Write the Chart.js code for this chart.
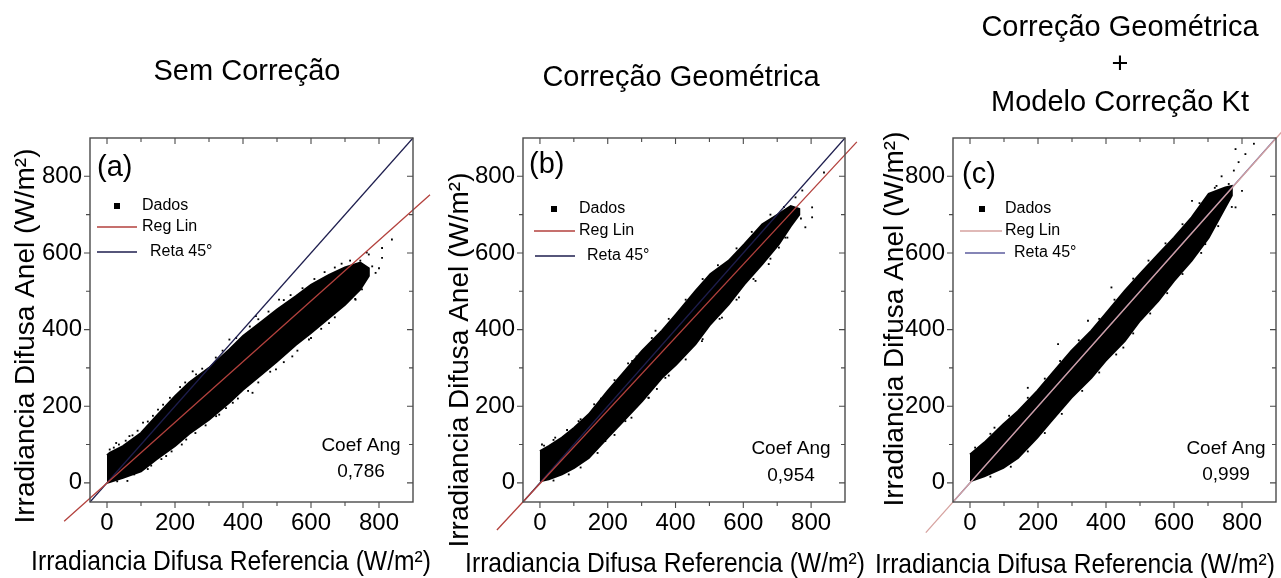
<!DOCTYPE html>
<html>
<head>
<meta charset="utf-8">
<script src="https://cdn.jsdelivr.net/npm/chart.js@4.4.1/dist/chart.umd.min.js"></script>
<style>
  html, body { margin: 0; padding: 0; background: #fff; overflow: hidden; }
  #wrap { position: relative; width: 1281px; height: 578px; }
  canvas { position: absolute; top: 0; }
</style>
</head>
<body>
<div id="wrap">
  <canvas id="chartA" width="440" height="578" style="left:0px"></canvas>
  <canvas id="chartB" width="440" height="578" style="left:427px"></canvas>
  <canvas id="chartC" width="427" height="578" style="left:854px"></canvas>
</div>
<script>
// axes (same for the three panels)
const axisMin = -50;
const axisMax = 900;
const tickValues = [0, 200, 400, 600, 800];
const minorTickValues = [100, 300, 500, 700];
const xAxisTitle = "Irradiancia Difusa Referencia (W/m²)";
const yAxisTitle = "Irradiancia Difusa Anel (W/m²)";
const legendLabels = ["Dados", "Reg Lin", "Reta 45°"];

const panelTitles = [
  ["Sem Correção"],
  ["Correção Geométrica"],
  ["Correção Geométrica", "+", "Modelo Correção Kt"]
];
const panelLabels = ["(a)", "(b)", "(c)"];
const slopeLabels = ["0,786", "0,954", "0,999"];

// 45 degree line
const diagX = [-50, 900];
const diagY = [-50, 900];

// (a) sem correcao: outline of the dense cloud, loose points, regression line
const cloudAX    = [0, 8, 47, 100, 145, 200, 242, 300, 360, 400, 457, 500, 555, 600, 653, 700, 745, 770];
const cloudAHigh = [72, 78, 96, 130, 174, 226, 262, 300, 348, 383, 422, 452, 487, 517, 543, 562, 575, 560];
const cloudALow  = [0, 2, 13, 30, 61, 96, 128, 165, 210, 243, 285, 317, 360, 391, 430, 465, 505, 540];
const strayAX = [252, 262, 150, 106, 770, 780, 809, 809, 790, 721, 731, 692, 653, 594, 545, 497, 428, 370, 321, 233, 174, 8, 27, 66, 506, 438, 360, 838, 764, 745, 700, 660, 620, 580, 210, 130, 60,
  20, 35, 55, 75, 90, 120, 135, 165, 185, 215, 230, 280, 320, 340, 380, 420, 445, 475, 520, 540, 575, 610, 640, 670, 690, 715,
  30, 80, 120, 160, 190, 220, 260, 290, 330, 350, 385, 415, 445, 480, 520, 560, 600, 630, 670, 730, 750, 800];
const strayAY = [291, 283, 191, 157, 596, 565, 613, 587, 548, 496, 478, 461, 417, 374, 330, 296, 235, 209, 174, 113, 70, 87, 104, 122, 478, 435, 374, 635, 601, 580, 545, 520, 470, 420, 120, 45, 5,
  92, 100, 110, 124, 136, 160, 175, 204, 222, 250, 262, 298, 327, 345, 378, 408, 427, 447, 477, 490, 508, 532, 550, 562, 572, 580,
  4, 22, 36, 62, 82, 100, 130, 150, 178, 195, 220, 240, 262, 290, 315, 345, 378, 402, 432, 480, 505, 560];
const regAX = [-126, 950];
const regAY = [-100, 752];

// (b) correcao geometrica
const cloudBX    = [0, 26, 65, 101, 144, 200, 242, 301, 360, 402, 459, 503, 557, 603, 656, 705, 740, 765];
const cloudBHigh = [83, 96, 118, 144, 179, 240, 283, 344, 397, 440, 501, 545, 580, 623, 675, 702, 722, 715];
const cloudBLow  = [4, 9, 22, 39, 65, 118, 157, 213, 274, 309, 362, 414, 466, 518, 571, 623, 670, 700];
const strayBX = [838, 803, 803, 783, 774, 754, 724, 705, 675, 636, 587, 537, 478, 419, 370, 321, 252, 193, 341, 272, 193, 114, 45, 6, 439, 537, 760, 740, 720, 690, 650,
  12, 40, 80, 120, 160, 180, 220, 260, 285, 330, 380, 430, 480, 525, 580, 625, 680, 720,
  40, 85, 120, 170, 220, 270, 320, 345, 380, 430, 480, 530, 580, 630, 680, 730, 770];
const strayBY = [810, 719, 693, 667, 763, 745, 640, 614, 571, 527, 484, 431, 370, 327, 274, 222, 161, 109, 397, 318, 222, 161, 118, 100, 475, 553, 700, 690, 700, 660, 640,
  97, 112, 138, 166, 205, 220, 268, 312, 330, 378, 428, 478, 532, 568, 612, 655, 700, 720,
  6, 22, 40, 78, 125, 170, 222, 245, 280, 322, 375, 428, 478, 532, 585, 640, 690];
const regBX = [-127, 935];
const regBY = [-123, 890];

// (c) correcao geometrica + modelo kt
const cloudCX    = [0, 42, 98, 141, 198, 239, 298, 357, 398, 455, 500, 554, 600, 652, 702, 751, 770];
const cloudCHigh = [74, 105, 153, 187, 240, 283, 344, 397, 440, 501, 545, 597, 640, 693, 754, 771, 775];
const cloudCLow  = [4, 17, 39, 65, 118, 161, 222, 274, 318, 370, 423, 475, 527, 580, 640, 719, 750];
const strayCX = [835, 810, 781, 790, 776, 761, 781, 800, 653, 692, 682, 633, 594, 534, 451, 416, 347, 259, 170, 72, 18, 357, 288, 219, 141, 740, 720, 760, 705,
  15, 60, 115, 170, 220, 265, 320, 380, 425, 480, 525, 575, 625, 675, 725,
  60, 120, 170, 220, 270, 330, 380, 430, 480, 530, 580, 625, 680, 730, 770];
const strayCY = [885, 858, 871, 837, 815, 780, 719, 762, 736, 623, 640, 588, 536, 484, 353, 510, 423, 362, 248, 144, 83, 283, 231, 161, 100, 800, 770, 745, 720,
  92, 128, 175, 222, 272, 318, 372, 428, 478, 533, 580, 625, 675, 730, 775,
  16, 42, 82, 130, 180, 240, 288, 335, 390, 442, 495, 545, 600, 670, 720];
const regCX = [-130, 930];
const regCY = [-130, 929];

const FONT = "'Liberation Sans', Arial, Helvetica, sans-serif";
Chart.defaults.font.family = FONT;
Chart.defaults.color = "#000";

const pairs = (xs, ys) => xs.map((x, i) => ({ x: x, y: ys[i] }));

// upper edge left to right, then lower edge back
function outline(xs, hi, lo) {
  const pts = pairs(xs, hi);
  for (let i = xs.length - 1; i >= 0; i--) pts.push({ x: xs[i], y: lo[i] });
  return pts;
}

const decor = {
  id: "decor",
  afterDraw(chart, args, o) {
    const { ctx, chartArea: a, scales: { x, y } } = chart;
    ctx.save();

    // frame, ticks out on left/bottom and in on top/right
    ctx.strokeStyle = "#4a4a4a";
    ctx.lineWidth = 1.4;
    ctx.strokeRect(a.left, a.top, a.right - a.left, a.bottom - a.top);
    ctx.lineWidth = 1.1;
    const marks = (vals, len) => {
      ctx.beginPath();
      vals.forEach(v => {
        const px = x.getPixelForValue(v);
        const py = y.getPixelForValue(v);
        ctx.moveTo(px, a.bottom); ctx.lineTo(px, a.bottom + len);
        ctx.moveTo(px, a.top); ctx.lineTo(px, a.top + len);
        ctx.moveTo(a.left, py); ctx.lineTo(a.left - len, py);
        ctx.moveTo(a.right, py); ctx.lineTo(a.right - len, py);
      });
      ctx.stroke();
    };
    marks(tickValues, 6);
    marks(minorTickValues, 4);

    ctx.fillStyle = "#000";

    // title above the plot
    ctx.textAlign = "center";
    ctx.textBaseline = "alphabetic";
    ctx.font = "29px " + FONT;
    o.title.forEach((t, i) => ctx.fillText(t, o.titleX, o.titleBase[i]));

    // axis titles
    ctx.save();
    ctx.translate(o.xTitle[0], o.xTitle[1]);
    ctx.scale(0.88, 1);
    ctx.font = "28px " + FONT;
    ctx.fillText(xAxisTitle, 0, 0);
    ctx.restore();

    ctx.save();
    ctx.translate(o.yTitle[0], o.yTitle[1]);
    ctx.rotate(-Math.PI / 2);
    ctx.textBaseline = "middle";
    ctx.font = "28px " + FONT;
    ctx.fillText(yAxisTitle, 0, 0);
    ctx.restore();

    // panel letter
    ctx.textAlign = "left";
    ctx.textBaseline = "middle";
    ctx.font = "29px " + FONT;
    ctx.fillText(o.label, a.left + o.labelPos[0], a.top + o.labelPos[1]);

    // legend
    const lg = o.legend;
    ctx.font = "16px " + FONT;
    ctx.fillRect(a.left + lg.marker[0] - 3, a.top + lg.marker[1] - 3, 6, 6);
    ctx.fillText(legendLabels[0], a.left + lg.text[0], a.top + lg.marker[1]);
    ctx.lineWidth = 1.3;
    ctx.strokeStyle = o.regColor;
    ctx.beginPath();
    ctx.moveTo(a.left + lg.reg[0], a.top + lg.reg[2]);
    ctx.lineTo(a.left + lg.reg[1], a.top + lg.reg[2]);
    ctx.stroke();
    ctx.fillText(legendLabels[1], a.left + lg.text[0], a.top + lg.reg[2]);
    ctx.strokeStyle = o.diagColor;
    ctx.beginPath();
    ctx.moveTo(a.left + lg.diag[0], a.top + lg.diag[2]);
    ctx.lineTo(a.left + lg.diag[1], a.top + lg.diag[2]);
    ctx.stroke();
    ctx.fillText(legendLabels[2], a.left + lg.text[1], a.top + lg.diag[2]);

    // slope note
    ctx.textAlign = "center";
    ctx.font = "19px " + FONT;
    ctx.fillText("Coef Ang", a.right + o.coef[0], a.bottom + o.coef[1]);
    ctx.fillText(o.slope, a.right + o.coef[0], a.bottom + o.coef[2]);

    ctx.restore();
  }
};

function makeChart(id, p) {
  const scaleBase = {
    type: "linear",
    min: axisMin,
    max: axisMax,
    afterBuildTicks: s => { s.ticks = tickValues.map(v => ({ value: v })); },
    grid: { display: false, drawTicks: false },
    border: { display: false },
    ticks: { font: { size: 24 }, color: "#000", maxRotation: 0, autoSkip: false }
  };

  return new Chart(document.getElementById(id), {
    type: "scatter",
    data: {
      datasets: [
        {
          label: legendLabels[1],
          data: pairs(p.regX, p.regY),
          showLine: true,
          borderColor: p.regColor,
          borderWidth: 1.3,
          pointRadius: 0,
          clip: false
        },
        {
          label: legendLabels[2],
          data: pairs(diagX, diagY),
          showLine: true,
          borderColor: p.diagColor,
          borderWidth: 1.2,
          pointRadius: 0,
          clip: false
        },
        {
          label: legendLabels[0],
          data: pairs(p.strayX, p.strayY),
          pointStyle: "rect",
          pointRadius: 1.3,
          backgroundColor: "#000",
          borderColor: "#000",
          borderWidth: 0
        },
        {
          label: "cloud",
          data: outline(p.cloudX, p.cloudHigh, p.cloudLow),
          showLine: true,
          fill: "shape",
          backgroundColor: "#000",
          borderColor: "#000",
          borderWidth: 2,
          pointRadius: 0
        }
      ]
    },
    options: {
      responsive: false,
      animation: false,
      devicePixelRatio: 1,
      layout: { padding: { left: 0, top: p.box.top, right: p.box.right, bottom: 0 } },
      scales: {
        x: Object.assign({}, scaleBase, {
          afterFit: s => { s.height = p.box.bottomH; },
          ticks: Object.assign({}, scaleBase.ticks, { padding: 7 })
        }),
        y: Object.assign({}, scaleBase, {
          afterFit: s => { s.width = p.box.leftW; },
          ticks: Object.assign({}, scaleBase.ticks, { padding: 8 })
        })
      },
      plugins: {
        legend: { display: false },
        tooltip: { enabled: false },
        decor: p.decor
      }
    },
    plugins: [decor]
  });
}

makeChart("chartA", {
  cloudX: cloudAX, cloudHigh: cloudAHigh, cloudLow: cloudALow,
  strayX: strayAX, strayY: strayAY, regX: regAX, regY: regAY,
  regColor: "#b3413d", diagColor: "#1e1e4e",
  box: { top: 138, right: 27, leftW: 90, bottomH: 76 },
  decor: {
    title: panelTitles[0], titleX: 247, titleBase: [80],
    xTitle: [231, 570], yTitle: [26, 336],
    label: panelLabels[0], labelPos: [7, 30],
    legend: { marker: [27, 68], text: [52, 60], reg: [7, 47, 89], diag: [7, 47, 114] },
    regColor: "#b3413d", diagColor: "#1e1e4e",
    coef: [-52, -56, -30], slope: slopeLabels[0]
  }
});

makeChart("chartB", {
  cloudX: cloudBX, cloudHigh: cloudBHigh, cloudLow: cloudBLow,
  strayX: strayBX, strayY: strayBY, regX: regBX, regY: regBY,
  regColor: "#b3413d", diagColor: "#1e1e4e",
  box: { top: 138, right: 22, leftW: 96, bottomH: 76 },
  decor: {
    title: panelTitles[1], titleX: 254, titleBase: [86],
    xTitle: [238, 572], yTitle: [33, 360],
    label: panelLabels[1], labelPos: [6, 27],
    legend: { marker: [31, 71], text: [56, 64], reg: [11, 52, 93], diag: [12, 52, 118] },
    regColor: "#b3413d", diagColor: "#1e1e4e",
    coef: [-54, -53, -26], slope: slopeLabels[1]
  }
});

makeChart("chartC", {
  cloudX: cloudCX, cloudHigh: cloudCHigh, cloudLow: cloudCLow,
  strayX: strayCX, strayY: strayCY, regX: regCX, regY: regCY,
  regColor: "#d6a29f", diagColor: "#5c5c9e",
  box: { top: 138, right: 5, leftW: 99, bottomH: 76 },
  decor: {
    title: panelTitles[2], titleX: 266, titleBase: [36, 73, 111],
    xTitle: [221, 573], yTitle: [41, 319],
    label: panelLabels[2], labelPos: [9, 37],
    legend: { marker: [29, 71], text: [52, 61], reg: [7, 49, 93], diag: [12, 52, 115] },
    regColor: "#d6a29f", diagColor: "#5c5c9e",
    coef: [-50, -53, -27], slope: slopeLabels[2]
  }
});
</script>
</body>
</html>
